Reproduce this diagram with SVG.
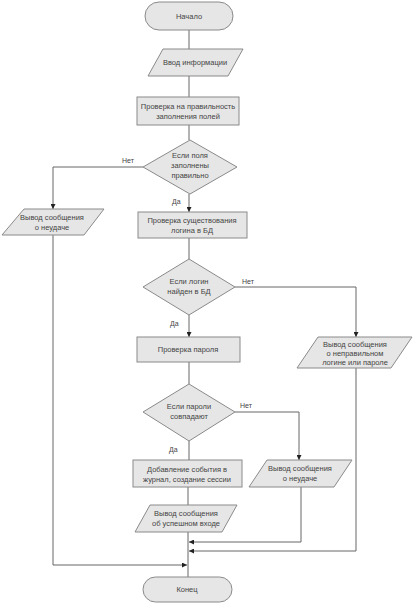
<svg xmlns="http://www.w3.org/2000/svg" width="416" height="606" viewBox="0 0 416 606">
<defs>
<marker id="ah" viewBox="0 0 10 10" refX="10" refY="5" markerWidth="5" markerHeight="5" orient="auto">
<path d="M0,0 L10,5 L0,10 z" fill="#222"/>
</marker>
<style>
.s{fill:#e6e6e6;stroke:#8a8a8a;stroke-width:1}
.t{font-family:"Liberation Sans",Arial,sans-serif;font-size:7.5px;fill:#444;text-anchor:middle}
.l{font-family:"Liberation Sans",Arial,sans-serif;font-size:7px;fill:#444}
.c{fill:none;stroke:#666;stroke-width:1}
</style>
</defs>
<rect width="416" height="606" fill="#fff"/>
<g id="connectors">
<path class="c" d="M189,30 V49"/>
<path class="c" d="M189,76 V97"/>
<path class="c" d="M189,125 V140"/>
<path class="c" d="M143,167 H53 V209" marker-end="url(#ah)"/>
<path class="c" d="M189,194 V212" marker-end="url(#ah)"/>
<path class="c" d="M189,238 V259"/>
<path class="c" d="M235,287 H356 V337" marker-end="url(#ah)"/>
<path class="c" d="M189,315 V337" marker-end="url(#ah)"/>
<path class="c" d="M189,362 V384"/>
<path class="c" d="M235,412 H299 V460" marker-end="url(#ah)"/>
<path class="c" d="M189,441 V460"/>
<path class="c" d="M188,487 V505"/>
<path class="c" d="M188,532 V577"/>
<path class="c" d="M301,487 V542 H189" marker-end="url(#ah)"/>
<path class="c" d="M356,368 V551 H189" marker-end="url(#ah)"/>
<path class="c" d="M53,235 V565 H187" marker-end="url(#ah)"/>
<text class="l" x="122" y="163">Нет</text>
<text class="l" x="172" y="204">Да</text>
<text class="l" x="242" y="284">Нет</text>
<text class="l" x="170" y="326">Да</text>
<text class="l" x="240" y="408">Нет</text>
<text class="l" x="169" y="452">Да</text>
</g>
<g id="start">
<rect class="s" x="145" y="2" width="88" height="28" rx="14"/>
<text class="t" x="189" y="19">Начало</text>
</g>
<g id="input">
<polygon class="s" points="163,49 243,49 228,76 148,76"/>
<text class="t" x="195" y="65">Ввод информации</text>
</g>
<g id="check-fields">
<rect class="s" x="137" y="97" width="102" height="28"/>
<text class="t" x="188" y="109">Проверка на правильность</text>
<text class="t" x="188" y="119">заполнения полей</text>
</g>
<g id="dec-fields">
<polygon class="s" points="190,140 237,167 190,194 143,167"/>
<text class="t" x="190" y="158">Если поля</text>
<text class="t" x="190" y="168">заполнены</text>
<text class="t" x="190" y="178">правильно</text>
</g>
<g id="fail-left">
<polygon class="s" points="24,209 104,209 84,235 2,235"/>
<text class="t" x="52" y="220">Вывод сообщения</text>
<text class="t" x="52" y="230">о неудаче</text>
</g>
<g id="check-login">
<rect class="s" x="138" y="212" width="109" height="26"/>
<text class="t" x="192" y="223">Проверка существования</text>
<text class="t" x="192" y="233">логина в БД</text>
</g>
<g id="dec-login">
<polygon class="s" points="189,259 235,287 189,315 143,287"/>
<text class="t" x="189" y="284">Если логин</text>
<text class="t" x="189" y="294">найден в БД</text>
</g>
<g id="check-pass">
<rect class="s" x="137" y="337" width="103" height="25"/>
<text class="t" x="188" y="352">Проверка пароля</text>
</g>
<g id="wrong-login">
<polygon class="s" points="318,337 412,337 391,368 297,368"/>
<text class="t" x="355" y="347">Вывод сообщения</text>
<text class="t" x="355" y="356">о неправильном</text>
<text class="t" x="355" y="365">логине или пароле</text>
</g>
<g id="dec-pass">
<polygon class="s" points="189,384 235,412 189,441 143,412"/>
<text class="t" x="189" y="409">Если пароли</text>
<text class="t" x="189" y="419">совпадают</text>
</g>
<g id="add-event">
<rect class="s" x="133" y="460" width="109" height="27"/>
<text class="t" x="187" y="472">Добавление события в</text>
<text class="t" x="187" y="482">журнал, создание сессии</text>
</g>
<g id="fail-right">
<polygon class="s" points="267,460 352,460 334,487 249,487"/>
<text class="t" x="300" y="471">Вывод сообщения</text>
<text class="t" x="300" y="481">о неудаче</text>
</g>
<g id="success">
<polygon class="s" points="150,505 237,505 222,532 135,532"/>
<text class="t" x="186" y="516">Вывод сообщения</text>
<text class="t" x="186" y="526">об успешном входе</text>
</g>
<g id="end">
<rect class="s" x="143" y="577" width="89" height="25" rx="12.5"/>
<text class="t" x="187" y="592">Конец</text>
</g>
</svg>
